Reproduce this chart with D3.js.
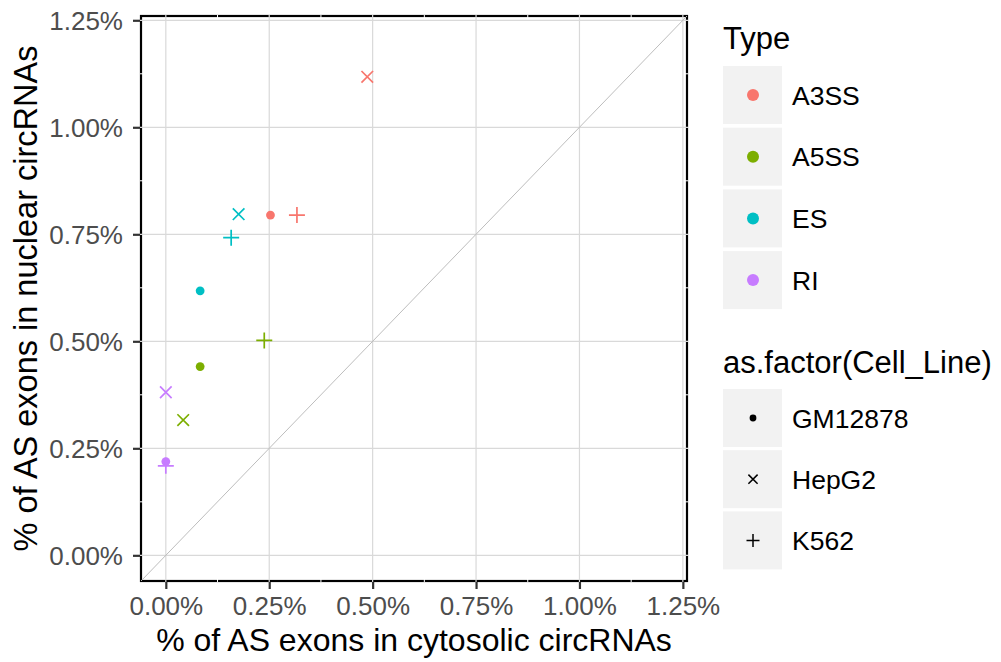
<!DOCTYPE html>
<html>
<head>
<meta charset="utf-8">
<script src="https://cdn.jsdelivr.net/npm/d3@7"></script>
<style>
  body { margin: 0; background: #fff; }
  svg text { font-family: 'Liberation Sans', Arial, Helvetica, sans-serif; }
</style>
</head>
<body>
<svg id="chart" width="1001" height="662"></svg>
<script>
/* ---------- data (percent values) ---------- */
const types     = ['A3SS', 'A5SS', 'ES', 'RI'];
const typeCols  = ['#F8766D', '#7CAE00', '#00BFC4', '#C77CFF'];
const cellLines = ['GM12878', 'HepG2', 'K562'];

const pointType = ['A3SS','A3SS','A3SS','A5SS','A5SS','A5SS','ES','ES','ES','RI','RI','RI'];
const pointCell = ['GM12878','HepG2','K562','GM12878','HepG2','K562','GM12878','HepG2','K562','GM12878','HepG2','K562'];
const cytosolic = [0.253, 0.487, 0.317, 0.083, 0.042, 0.238, 0.083, 0.176, 0.158, 0.000, 0.000, 0.000];
const nuclear   = [0.795, 1.118, 0.795, 0.441, 0.316, 0.502, 0.618, 0.797, 0.742, 0.219, 0.381, 0.209];

const majorTicks = [0, 0.25, 0.5, 0.75, 1.0, 1.25];
const minorTicks = [0.125, 0.375, 0.625, 0.875, 1.125];

/* ---------- layout ---------- */
const svg = d3.select('#chart');
const P = { l: 141, r: 687, t: 16, b: 581 };

const x = d3.scaleLinear().domain([-0.06, 1.26]).range([P.l, P.r]);
const y = d3.scaleLinear().domain([-0.06, 1.26]).range([P.b, P.t]);
const colour = d3.scaleOrdinal(types, typeCols);

const pts = cytosolic.map((v, i) => ({ type: pointType[i], cell: pointCell[i], cx: v, ny: nuclear[i] }));

/* panel background with black outline (grid drawn over it) */
svg.append('rect')
  .attr('x', P.l).attr('y', P.t)
  .attr('width', P.r - P.l).attr('height', P.b - P.t)
  .attr('fill', '#fff').attr('stroke', '#000').attr('stroke-width', 2.2);

const grid = svg.append('g');
// minor grid in white - only shows where it crosses the outline
minorTicks.forEach(t => {
  grid.append('line').attr('x1', x(t)).attr('x2', x(t)).attr('y1', P.t - 1).attr('y2', P.b + 1)
    .attr('stroke', '#fff').attr('stroke-width', 1);
  grid.append('line').attr('y1', y(t)).attr('y2', y(t)).attr('x1', P.l - 1).attr('x2', P.r + 1)
    .attr('stroke', '#fff').attr('stroke-width', 1);
});
majorTicks.forEach(t => {
  grid.append('line').attr('x1', x(t)).attr('x2', x(t)).attr('y1', P.t - 1).attr('y2', P.b + 1)
    .attr('stroke', '#d9d9d9').attr('stroke-width', 1.2);
  grid.append('line').attr('y1', y(t)).attr('y2', y(t)).attr('x1', P.l - 1).attr('x2', P.r + 1)
    .attr('stroke', '#d9d9d9').attr('stroke-width', 1.2);
});

/* y = x reference line */
svg.append('line')
  .attr('x1', x(-0.06)).attr('y1', y(-0.06))
  .attr('x2', x(1.26)).attr('y2', y(1.26))
  .attr('stroke', '#bdbdbd').attr('stroke-width', 1);

/* ---------- shapes ---------- */
function drawShape(g, cell, col, s) {
  if (cell === 'GM12878') {
    g.append('circle').attr('r', 4.4 * s).attr('fill', col);
  } else if (cell === 'HepG2') {
    const h = 5.8 * s;
    g.append('path').attr('d', `M${-h},${-h}L${h},${h}M${-h},${h}L${h},${-h}`)
      .attr('stroke', col).attr('stroke-width', 1.7).attr('fill', 'none');
  } else {
    const h = 8 * s;
    g.append('path').attr('d', `M${-h},0L${h},0M0,${-h}L0,${h}`)
      .attr('stroke', col).attr('stroke-width', 1.7).attr('fill', 'none');
  }
}

const pg = svg.append('g');
pts.forEach(d => {
  const g = pg.append('g').attr('transform', `translate(${x(d.cx)},${y(d.ny)})`);
  drawShape(g, d.cell, colour(d.type), 1);
});

/* ---------- axes ---------- */
const fmt = d => d3.format('.2f')(d) + '%';

const yAxis = svg.append('g')
  .attr('transform', `translate(${P.l - 1},0)`)
  .call(d3.axisLeft(y).tickValues(majorTicks).tickSize(7).tickPadding(10).tickFormat(fmt));
yAxis.select('.domain').remove();
yAxis.selectAll('.tick line').attr('stroke', '#333').attr('stroke-width', 2.2);
yAxis.selectAll('.tick text')
  .attr('fill', '#4d4d4d').style('font-size', '26px')
  .attr('x', -17).attr('dy', '0.36em');

const xAxis = svg.append('g')
  .attr('transform', `translate(0,${P.b + 1})`)
  .call(d3.axisBottom(x).tickValues(majorTicks).tickSize(7).tickPadding(8).tickFormat(fmt));
xAxis.select('.domain').remove();
xAxis.selectAll('.tick line').attr('stroke', '#333').attr('stroke-width', 2.2);
xAxis.selectAll('.tick text')
  .attr('fill', '#4d4d4d').style('font-size', '26px');

/* axis titles */
svg.append('text')
  .attr('x', (P.l + P.r) / 2).attr('y', 651)
  .attr('text-anchor', 'middle')
  .style('font-size', '32px').attr('fill', '#000')
  .text('% of AS exons in cytosolic circRNAs');

svg.append('text')
  .attr('transform', `translate(37,${(P.t + P.b) / 2}) rotate(-90)`)
  .attr('text-anchor', 'middle')
  .style('font-size', '32.5px').attr('fill', '#000')
  .text('% of AS exons in nuclear circRNAs');

/* ---------- legends ---------- */
const LX = 723, KEY = 58;

function legend(title, titleY, keysTop, step, items, drawKey) {
  const lg = svg.append('g');
  lg.append('text').attr('x', LX).attr('y', titleY)
    .style('font-size', '31px').attr('fill', '#000').text(title);
  items.forEach((it, i) => {
    const top = keysTop + i * step;
    lg.append('rect').attr('x', LX).attr('y', top).attr('width', KEY + 1).attr('height', KEY)
      .attr('fill', '#f2f2f2');
    const k = lg.append('g').attr('transform', `translate(${LX + KEY / 2 + 1},${top + KEY / 2})`);
    drawKey(k, it);
    lg.append('text').attr('x', 792).attr('y', top + KEY / 2).attr('dy', '0.36em')
      .style('font-size', '26.5px').attr('fill', '#000').text(it);
  });
}

legend('Type', 49, 66, 61.7, types, (k, t) => {
  k.append('circle').attr('r', 6).attr('fill', colour(t));
});

legend('as.factor(Cell_Line)', 373, 389, 61.2, cellLines, (k, c) => {
  if (c === 'GM12878') k.append('circle').attr('r', 3.4).attr('fill', '#000');
  else if (c === 'HepG2') {
    const h = 4.6;
    k.append('path').attr('d', `M${-h},${-h}L${h},${h}M${-h},${h}L${h},${-h}`)
      .attr('stroke', '#000').attr('stroke-width', 1.5);
  } else {
    const h = 6.5;
    k.append('path').attr('d', `M${-h},0L${h},0M0,${-h}L0,${h}`)
      .attr('stroke', '#000').attr('stroke-width', 1.5);
  }
});
</script>
</body>
</html>
